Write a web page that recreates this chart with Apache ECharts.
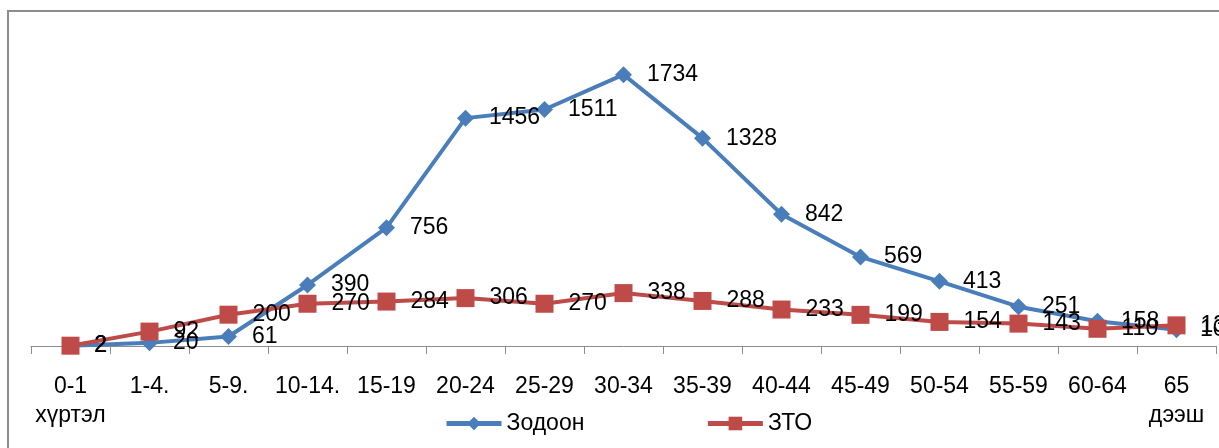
<!DOCTYPE html>
<html><head><meta charset="utf-8">
<script src="https://cdn.jsdelivr.net/npm/echarts@6/dist/echarts.min.js"></script>
<style>html,body{margin:0;padding:0;background:#fff}#c{width:1219px;height:448px}</style>
</head><body><div id="c"></div>
<script>
const categories = ['0-1\nхүртэл','1-4.','5-9.','10-14.','15-19','20-24','25-29','30-34','35-39','40-44','45-49','50-54','55-59','60-64','65\nдээш'];
const zodoon = [2, 20, 61, 390, 756, 1456, 1511, 1734, 1328, 842, 569, 413, 251, 158, 104];
const zto = [2, 92, 200, 270, 284, 306, 270, 338, 288, 233, 199, 154, 143, 110, 132];
const seriesNames = ['Зодоон', 'ЗТО'];

const FONT = 'Liberation Sans';
const chart = echarts.init(document.getElementById('c'), null, {renderer: 'canvas'});
const lbl = {show: true, position: 'right', distance: 15, color: '#000', fontFamily: FONT, fontSize: 23};
chart.setOption({
  animation: false,
  graphic: [{type: 'rect', shape: {x: 8, y: 11, width: 1300, height: 500}, style: {fill: 'none', stroke: '#8c8c8c', lineWidth: 2}, z: -1}],
  grid: {left: 31, right: 3, top: 33, bottom: 102, containLabel: false},
  legend: {
    bottom: 13, left: 444, padding: 0, itemGap: 121, itemWidth: 55, itemHeight: 17,
    lineStyle: {width: 5},
    textStyle: {fontFamily: FONT, fontSize: 23, color: '#000'},
    data: seriesNames
  },
  xAxis: {
    type: 'category', data: categories, boundaryGap: true,
    axisLine: {lineStyle: {color: '#8c8c8c', width: 1}},
    axisTick: {show: true, length: 8, alignWithLabel: false, lineStyle: {color: '#8c8c8c'}},
    axisLabel: {interval: 0, color: '#000', fontFamily: FONT, fontSize: 23, lineHeight: 29, margin: 26}
  },
  yAxis: {type: 'value', min: 0, max: 2000, show: false, splitLine: {show: false}},
  series: [
    {name: seriesNames[0], type: 'line', data: zodoon, symbol: 'diamond', symbolSize: 17,
     itemStyle: {color: '#4a7ebb'}, lineStyle: {color: '#4a7ebb', width: 4}, label: lbl},
    {name: seriesNames[1], type: 'line', data: zto, symbol: 'rect', symbolSize: 18,
     itemStyle: {color: '#be4b48'}, lineStyle: {color: '#be4b48', width: 4}, label: lbl}
  ]
});
</script></body></html>
